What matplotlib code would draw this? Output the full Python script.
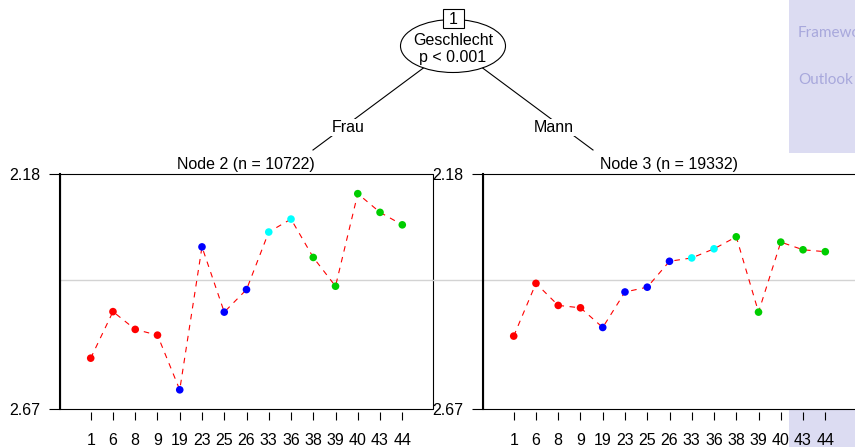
import matplotlib
matplotlib.use("Agg")
import matplotlib.pyplot as plt
from matplotlib.patches import Ellipse, Rectangle
import numpy as np

plt.rcParams['font.family'] = ['Liberation Sans', 'DejaVu Sans']
plt.rcParams['font.size'] = 11.5

# data
cats = ['1', '6', '8', '9', '19', '23', '25', '26', '33', '36', '38', '39', '40', '43', '44']
cat_cols = ['#FF0000'] * 4 + ['#0000FF'] * 4 + ['#00FFFF'] * 2 + ['#00CD00'] * 5
frau = [2.564, 2.467, 2.504, 2.516, 2.630, 2.332, 2.468, 2.421, 2.301, 2.274,
        2.354, 2.414, 2.221, 2.260, 2.286]
mann = [2.518, 2.408, 2.454, 2.459, 2.500, 2.426, 2.416, 2.362, 2.355, 2.336,
        2.311, 2.468, 2.322, 2.338, 2.342]
ref_line = 2.401
y_lo, y_hi = 2.18, 2.67
titles = ['Node 2 (n = 10722)', 'Node 3 (n = 19332)']
edge_labels = ['Frau', 'Mann']

W, H = 855, 447
fig = plt.figure(figsize=(W / 100, H / 100), dpi=100)

# background layer in pixel coords: beamer sidebar + tree
bg = fig.add_axes([0, 0, 1, 1], zorder=-1)
bg.set_xlim(0, W)
bg.set_ylim(H, 0)
bg.axis('off')
lav = '#dcdcf2'
bg.add_patch(Rectangle((789, 0), 70, 153, color=lav, lw=0))
bg.add_patch(Rectangle((789, 410), 70, 40, color=lav, lw=0))
for txt, yy in [('Framework', 33), ('Outlook', 80)]:
    bg.text(798, yy, txt, color='#a8a8dc', fontsize=11, family='Lato',
            va='center', ha='left', clip_on=True)

cx, cy = 453, 46
for ex, lab, lx in [(313, edge_labels[0], 348), (593, edge_labels[1], 554)]:
    bg.plot([cx, ex], [cy, 150], color='black', lw=0.8, zorder=1)
    bg.text(lx, 132, lab, ha='center', va='baseline', zorder=2,
            bbox=dict(facecolor='white', edgecolor='none', pad=1))
bg.add_patch(Ellipse((cx, cy), 105, 53, facecolor='white', edgecolor='black',
                     lw=0.8, zorder=3))
bg.text(cx, 45, 'Geschlecht', ha='center', va='baseline', zorder=4)
bg.text(cx, 62, 'p < 0.001', ha='center', va='baseline', zorder=4)
bg.add_patch(Rectangle((443, 9), 21, 19, facecolor='white', edgecolor='black',
                       lw=0.8, zorder=5))
bg.text(cx, 24.5, '1', ha='center', va='baseline', zorder=6)

panels = [(60, frau), (483, mann)]
for i, (left, vals) in enumerate(panels):
    ax = fig.add_axes([left / W, (H - 409) / H, 373 / W, 235 / H])
    x = np.arange(len(cats))
    ax.set_xlim(-1.38, len(cats) - 1 + 1.38)
    ax.set_ylim(y_hi, y_lo)
    xm = -50 / 373 if i == 1 else 0
    ax.axhline(ref_line, xmin=xm, xmax=1, color='#d3d3d3', lw=1, clip_on=False, zorder=1)
    ax.plot(x, vals, color='red', lw=0.8, ls=(0, (5, 5)), zorder=2)
    ax.scatter(x, vals, c=cat_cols, s=30, zorder=3, linewidths=0)
    for s in ['top', 'right', 'bottom']:
        ax.spines[s].set_visible(False)
    ax.spines['left'].set_linewidth(1.5)
    ax.add_patch(Rectangle((0, 0), 1, 1, transform=ax.transAxes, fill=False,
                           edgecolor='black', lw=0.8, clip_on=False))
    ax.set_yticks([y_lo, y_hi])
    ax.set_yticklabels(['2.18', '2.67'])
    ax.tick_params(axis='y', length=8, width=0.8, pad=6)
    ax.set_xticks(x)
    ax.set_xticklabels(cats)
    ax.tick_params(axis='x', length=6, width=0.8, pad=9, bottom=True)
    ax.xaxis.set_ticks_position('bottom')
    ax.spines['bottom'].set_position(('outward', 2))
    fig.text((left + 186) / W, 1 - 169 / H, titles[i], ha='center', va='baseline')

fig.savefig('out.png', dpi=100)
